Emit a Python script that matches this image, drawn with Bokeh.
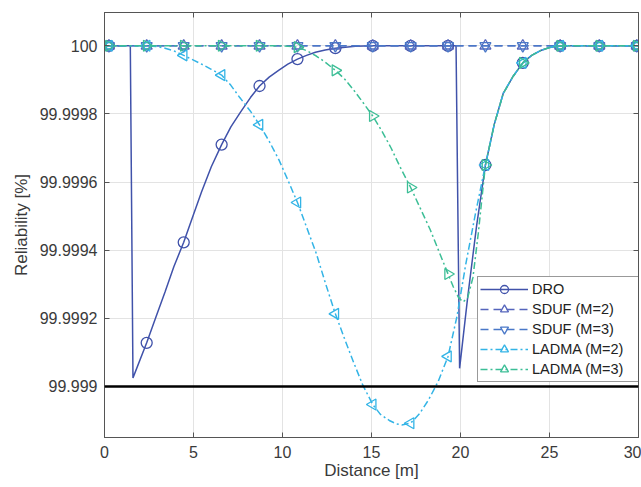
from bokeh.plotting import figure
from bokeh.models import (FixedTicker, CustomJSTickFormatter, Legend, LegendItem,
                          Span, Range1d, LinearAxis)
from bokeh.embed import file_html
from bokeh.resources import INLINE

# ---------------- data ----------------
X_TICKS = [0, 5, 10, 15, 20, 25, 30]
Y_TICKS = [99.999, 99.9992, 99.9994, 99.9996, 99.9998, 100.0]
THRESHOLD = 99.999

MARKER_X = [0.25, 2.37, 4.45, 6.58, 8.71, 10.84, 12.97, 15.07, 17.2, 19.3,
            21.4, 23.5, 25.6, 27.8, 29.9]

DRO_X = [0, 1.45, 1.6, 2.37, 2.9, 3.4, 3.9, 4.45, 5.0, 5.46, 6.0, 6.58, 7.1,
         7.65, 8.2, 8.71, 9.25, 9.78, 10.3, 10.84, 11.35, 11.85, 12.4, 12.97,
         14.09, 15.07, 19.75, 19.95, 20.4, 20.9, 21.4, 21.9, 22.4, 22.95,
         23.5, 24.0, 24.5, 25.0, 25.6, 30]
DRO_Y = [100, 100, 99.999025, 99.999128, 99.999205, 99.999277, 99.999352,
         99.999423, 99.999505, 99.999572, 99.999645, 99.99971, 99.999762,
         99.999806, 99.999848, 99.999882, 99.999908, 99.999928, 99.999946,
         99.999961, 99.999972, 99.999981, 99.999988, 99.999993, 99.999999,
         100, 100, 99.999053, 99.99926, 99.99947, 99.99965, 99.99977,
         99.99986, 99.99991, 99.99995, 99.999972, 99.999986, 99.999995, 100,
         100]
DRO_MY = [100, 99.999128, 99.999423, 99.99971, 99.999882, 99.999961,
          99.999993, 100, 100, 100, 99.99965, 99.99995, 100, 100, 100]

SDUF2_X = [0, 30]
SDUF2_Y = [100, 100]
SDUF2_MY = [100, 100, 100, 100, 100, 100, 100, 100, 100, 100, 100, 100,
            100, 100, 100]

SDUF3_X = [0, 30]
SDUF3_Y = [100, 100]
SDUF3_MY = [100, 100, 100, 100, 100, 100, 100, 100, 100, 100, 100, 100,
            100, 100, 100]

LADMA2_X = [0, 2.37, 2.9, 3.4, 3.9, 4.45, 5.0, 5.5, 6.0, 6.58, 7.1, 7.6, 8.2,
            8.71, 9.25, 9.8, 10.3, 10.84, 11.35, 11.9, 12.4, 12.97, 13.5,
            14.0, 14.5, 15.07, 15.5, 16.0, 16.4, 16.7, 17.2, 17.7, 18.2,
            18.75, 19.3, 19.8, 20.3, 20.85, 21.4, 21.9, 22.4, 22.95, 23.5,
            24.0, 24.5, 25.0, 25.6, 30]
LADMA2_Y = [100, 100, 99.999998, 99.999993, 99.999985, 99.999972,
            99.999958, 99.999945, 99.999931, 99.999914, 99.999884, 99.999848,
            99.999808, 99.999768, 99.99972, 99.999665, 99.999606, 99.99954,
            99.999468, 99.99939, 99.999305, 99.999213, 99.999138, 99.99907,
            99.999005, 99.998947, 99.998918, 99.9989, 99.99889, 99.998887,
            99.998892, 99.99892, 99.99896, 99.999015, 99.999088, 99.999205,
            99.99936, 99.99951, 99.99965, 99.99977, 99.99986, 99.99991,
            99.99995, 99.999972, 99.999986, 99.999995, 100, 100]
LADMA2_MY = [100, 100, 99.999972, 99.999914, 99.999768, 99.99954,
             99.999213, 99.998947, 99.998892, 99.999088, 99.99965,
             99.99995, 100, 100, 100]

LADMA3_X = [0, 10.0, 10.84, 11.35, 11.9, 12.4, 12.97, 13.5, 14.0, 14.5,
            15.07, 15.6, 16.1, 16.6, 17.2, 17.75, 18.3, 18.8, 19.3, 19.6,
            19.9, 20.15, 20.4, 20.7, 21.0, 21.4, 21.9, 22.4, 22.95, 23.5, 24.0,
            24.5, 25.0, 25.6, 30]
LADMA3_Y = [100, 100, 99.999996, 99.999986, 99.99997, 99.999952, 99.999928,
            99.999902, 99.99987, 99.999835, 99.999794, 99.999748, 99.9997,
            99.999645, 99.999584, 99.999522, 99.99946, 99.999395, 99.99933,
            99.999292, 99.99926, 99.999248, 99.99926, 99.99932, 99.99945,
            99.99965, 99.99977, 99.99986, 99.99991, 99.99995, 99.999972,
            99.999986, 99.999995, 100, 100]
LADMA3_MY = [100, 100, 100, 100, 100, 99.999996, 99.999928, 99.999794,
             99.999584, 99.99933, 99.99965, 99.99995, 100, 100, 100]

LABELS = ["DRO", "SDUF (M=2)", "SDUF (M=3)", "LADMA (M=2)", "LADMA (M=3)"]

# ---------------- styling ----------------
FONT = "Liberation Sans"
AXC = "#555555"
TXT = "#3a3a3a"
C_DRO = "#4052AA"
C_SDUF2 = "#5565BC"
C_SDUF3 = "#4A78C8"
C_LAD2 = "#33B4E6"
C_LAD3 = "#3CBE96"

p = figure(width=641, height=487, output_backend="svg", toolbar_location=None,
           x_range=Range1d(0, 30), y_range=Range1d(99.99885, 100.0000978),
           min_border_left=104, min_border_right=3, min_border_top=12,
           min_border_bottom=50)

p.background_fill_color = "white"
p.outline_line_color = AXC
p.outline_line_width = 1

# box axes on top / right with inward ticks, no labels
p.add_layout(LinearAxis(), "right")
p.add_layout(LinearAxis(), "above")

blank = CustomJSTickFormatter(code="return '';")
for ax in p.xaxis:
    ax.ticker = FixedTicker(ticks=X_TICKS)
for ax in p.yaxis:
    ax.ticker = FixedTicker(ticks=Y_TICKS)

for ax in list(p.xaxis) + list(p.yaxis):
    ax.axis_line_color = AXC
    ax.major_tick_line_color = AXC
    ax.major_tick_in = 5
    ax.major_tick_out = 0
    ax.minor_tick_line_color = None
    ax.major_label_text_font = FONT
    ax.major_label_text_font_size = "16px"
    ax.major_label_text_color = TXT
    ax.axis_label_text_font = FONT
    ax.axis_label_text_font_size = "17px"
    ax.axis_label_text_font_style = "normal"
    ax.axis_label_text_color = TXT

bottom_ax = p.below[0]
left_ax = p.left[0]
for ax in (p.right[0], p.above[0]):
    ax.formatter = blank
    ax.major_label_standoff = 0
    ax.major_label_text_font_size = "1px"

left_ax.formatter = CustomJSTickFormatter(
    code="return (Math.round(tick*1e4)/1e4).toString();")

bottom_ax.axis_label = "Distance [m]"
left_ax.axis_label = "Reliability [%]"
bottom_ax.major_label_standoff = 8
bottom_ax.axis_label_standoff = 0
left_ax.major_label_standoff = 7
left_ax.axis_label_standoff = 6

p.xgrid.grid_line_color = "#e3e3e3"
p.ygrid.grid_line_color = "#e3e3e3"

p.add_layout(Span(location=THRESHOLD, dimension="width", line_color="black",
                  line_width=2.5))

DASH = "8 5"
DASHDOT = "7 3 2 3"

r_dro_l = p.line(DRO_X, DRO_Y, line_color=C_DRO, line_width=1.5)
r_dro_m = p.scatter(MARKER_X, DRO_MY, marker="circle", size=11,
                    line_color=C_DRO, fill_color=None, line_width=1.3)

r_s2_l = p.line(SDUF2_X, SDUF2_Y, line_color=C_SDUF2, line_width=1.5,
                line_dash=DASH)
r_s2_m = p.scatter(MARKER_X, SDUF2_MY, marker="triangle", size=11,
                   line_color=C_SDUF2, fill_color=None, line_width=1.3)

r_s3_l = p.line(SDUF3_X, SDUF3_Y, line_color=C_SDUF3, line_width=1.5,
                line_dash=DASH)
r_s3_m = p.scatter(MARKER_X, SDUF3_MY, marker="inverted_triangle", size=11,
                   line_color=C_SDUF3, fill_color=None, line_width=1.3)

r_l2_l = p.line(LADMA2_X, LADMA2_Y, line_color=C_LAD2, line_width=1.5,
                line_dash=DASHDOT)
r_l2_m = p.scatter(MARKER_X, LADMA2_MY, marker="triangle", angle=1.5708,
                   size=11, line_color=C_LAD2, fill_color=None, line_width=1.3)

r_l3_l = p.line(LADMA3_X, LADMA3_Y, line_color=C_LAD3, line_width=1.5,
                line_dash=DASHDOT)
r_l3_m = p.scatter(MARKER_X, LADMA3_MY, marker="triangle", angle=-1.5708,
                   size=11, line_color=C_LAD3, fill_color=None, line_width=1.3)

items = [
    LegendItem(label=LABELS[0], renderers=[r_dro_l, r_dro_m]),
    LegendItem(label=LABELS[1], renderers=[r_s2_l, r_s2_m]),
    LegendItem(label=LABELS[2], renderers=[r_s3_l, r_s3_m]),
    LegendItem(label=LABELS[3], renderers=[r_l2_l, r_l2_m]),
    LegendItem(label=LABELS[4], renderers=[r_l3_l, r_l3_m]),
]
legend = Legend(items=items, location=(373, 55), margin=0, padding=2,
                spacing=0, glyph_width=48, glyph_height=20, label_height=20,
                label_width=105, label_standoff=4,
                label_text_font=FONT, label_text_font_size="14.5px",
                label_text_color="#222222",
                border_line_color="#333333", border_line_width=1,
                background_fill_color="white", background_fill_alpha=1.0)
p.add_layout(legend)

open("out.html", "w").write(file_html(p, INLINE))
